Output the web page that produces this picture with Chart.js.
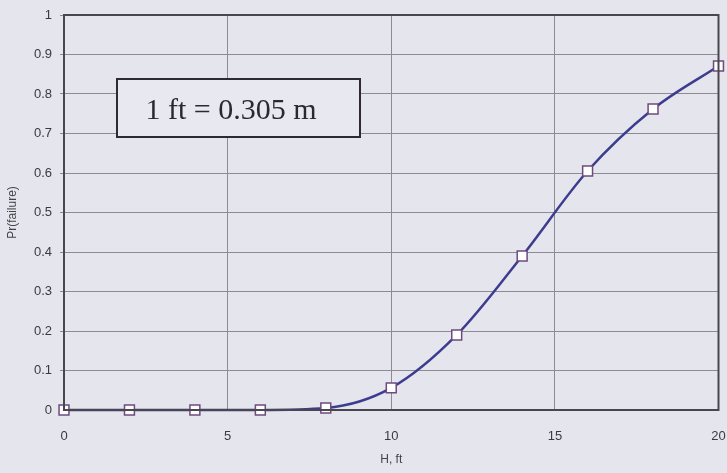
<!DOCTYPE html>
<html>
<head>
<meta charset="utf-8">
<script src="https://cdn.jsdelivr.net/npm/chart.js@4/dist/chart.umd.min.js"></script>
<style>
html,body{margin:0;padding:0;background:#e5e5ed;}
#wrap{width:727px;height:473px;position:relative;}
</style>
</head>
<body>
<div id="wrap"><canvas id="c" width="727" height="473"></canvas></div>
<script>
const hValues = [0, 2, 4, 6, 8, 10, 12, 14, 16, 18, 20];
const prFailure = [0, 0, 0, 0, 0.005, 0.056, 0.19, 0.39, 0.605, 0.762, 0.871];
const xTicks = [0, 5, 10, 15, 20];
const yTicks = [0, 0.1, 0.2, 0.3, 0.4, 0.5, 0.6, 0.7, 0.8, 0.9, 1];
const noteText = "1 ft = 0.305 m";

const points = hValues.map((h, i) => ({x: h, y: prFailure[i]}));

const framePlugin = {
  id: 'frame',
  afterDraw(chart) {
    const {ctx, chartArea: a} = chart;
    ctx.save();
    ctx.strokeStyle = '#4a4650';
    ctx.lineWidth = 2;
    ctx.strokeRect(a.left, a.top, a.right - a.left, a.bottom - a.top);
    // note box
    ctx.fillStyle = '#e8e8f0';
    ctx.fillRect(117, 79, 243, 58);
    ctx.strokeStyle = '#2e2a30';
    ctx.lineWidth = 2;
    ctx.strokeRect(117, 79, 243, 58);
    ctx.fillStyle = '#2a2a2e';
    ctx.font = '30px "Liberation Serif", "Times New Roman", serif';
    ctx.textAlign = 'center';
    ctx.textBaseline = 'alphabetic';
    ctx.fillText(noteText, 231, 119);
    ctx.restore();
  }
};

new Chart(document.getElementById('c'), {
  type: 'line',
  data: {
    datasets: [{
      data: points,
      borderColor: '#3e3c8e',
      borderWidth: 2.5,
      cubicInterpolationMode: 'monotone',
      pointStyle: 'rect',
      pointRadius: 7,
      pointBorderWidth: 1.5,
      pointBorderColor: '#6e4a7e',
      pointBackgroundColor: '#ffffff',
      clip: false
    }]
  },
  options: {
    responsive: false,
    animation: false,
    devicePixelRatio: 1,
    layout: {padding: {top: 15, right: 6, left: 0, bottom: 0}},
    plugins: {legend: {display: false}, tooltip: {enabled: false}},
    scales: {
      x: {
        type: 'linear',
        min: 0, max: 20,
        afterFit(s) { s.height = 63; s.paddingRight = 0; s.paddingLeft = 0; },
        afterBuildTicks(s) { s.ticks = xTicks.map(v => ({value: v})); },
        grid: {color: '#8e8a94', lineWidth: 1, drawTicks: false},
        border: {color: '#4a4650', width: 2},
        ticks: {padding: 19, color: '#3a3a3e', font: {family: '"Liberation Sans", Arial, sans-serif', size: 13}},
        title: {display: true, text: 'H, ft', color: '#444448', font: {family: '"Liberation Sans", Arial, sans-serif', size: 12}, padding: {top: 0, bottom: 6}}
      },
      y: {
        min: 0, max: 1,
        afterFit(s) { s.width = 64; s.paddingTop = 0; s.paddingBottom = 0; },
        afterBuildTicks(s) { s.ticks = yTicks.map(v => ({value: v})); },
        grid: {color: '#8e8a94', lineWidth: 1, tickLength: 4},
        border: {color: '#4a4650', width: 2},
        ticks: {padding: 8, color: '#3a3a3e', font: {family: '"Liberation Sans", Arial, sans-serif', size: 13},
          callback: v => String(Math.round(v * 10) / 10)},
        title: {display: true, text: 'Pr(failure)', color: '#444448', font: {family: '"Liberation Sans", Arial, sans-serif', size: 12}, padding: {top: 5, bottom: 0}}
      }
    }
  },
  plugins: [framePlugin]
});
</script>
</body>
</html>
